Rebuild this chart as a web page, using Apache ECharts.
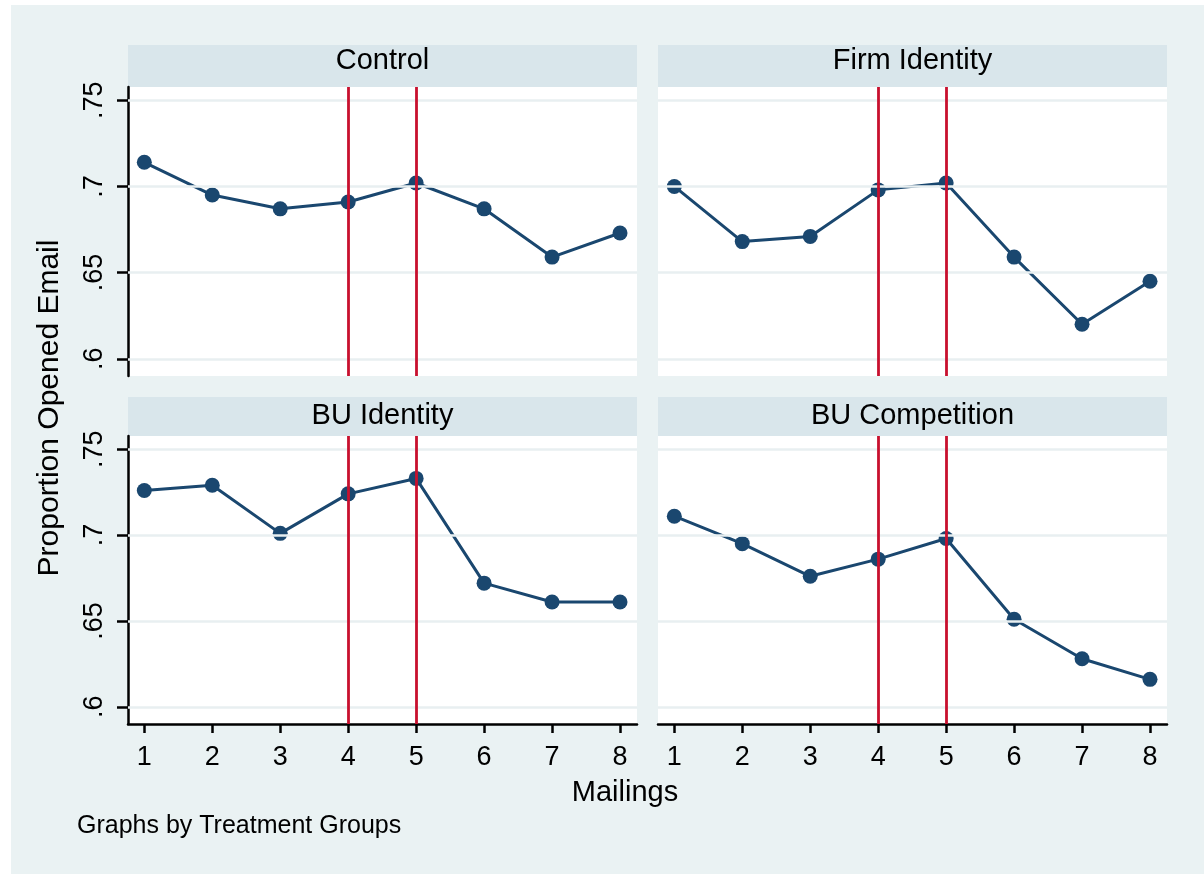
<!DOCTYPE html>
<html>
<head>
<meta charset="utf-8">
<title>Proportion Opened Email by Mailing</title>
<script src="https://cdn.jsdelivr.net/npm/echarts@6/dist/echarts.min.js"></script>
<style>
  html, body { margin: 0; padding: 0; background: #ffffff; }
  #chart { width: 1204px; height: 874px; }
</style>
</head>
<body>
<div id="chart"></div>
<script>
// Mailing number on the x axis
const mailings = [1, 2, 3, 4, 5, 6, 7, 8];

// Proportion of recipients who opened the email, per treatment group
const control       = [0.714, 0.695, 0.687, 0.691, 0.702, 0.687, 0.659, 0.673];
const firmIdentity  = [0.700, 0.668, 0.671, 0.698, 0.702, 0.659, 0.620, 0.645];
const buIdentity    = [0.726, 0.729, 0.701, 0.724, 0.733, 0.672, 0.661, 0.661];
const buCompetition = [0.711, 0.695, 0.676, 0.686, 0.698, 0.651, 0.628, 0.616];

const groupNames = ['Control', 'Firm Identity', 'BU Identity', 'BU Competition'];
const groupValues = [control, firmIdentity, buIdentity, buCompetition];

// Mailings marked with vertical reference lines
const markedMailings = [4, 5];

// Axis ticks
const yTicks = [0.6, 0.65, 0.7, 0.75];
const xTicks = [1, 2, 3, 4, 5, 6, 7, 8];

const FONT = 'Liberation Sans';
const NAVY = '#1a476f';
const RED = '#c8102e';
const BG = '#eaf2f3';
const STRIP = '#d9e6eb';
const GRIDLINE = '#e8eff1';

// Panel layout: [left, top, width, height], row-major
const panels = [
  [128, 87, 509, 289],
  [658, 87, 509, 289],
  [128, 436, 509, 288],
  [658, 436, 509, 288]
];
const stripHeight = [42, 42, 39, 39];

const fmtY = v => {
  const s = String(+v.toFixed(2));
  return s.replace(/^0\./, '.');
};

const grids = [], xAxes = [], yAxes = [], series = [], graphics = [];

// Page background
graphics.push({
  type: 'rect', shape: { x: 11, y: 5, width: 1193, height: 869 },
  style: { fill: BG }, z: -10, silent: true
});

panels.forEach((p, i) => {
  const [left, top, width, height] = p;
  const isLeft = i % 2 === 0;
  const isBottom = i >= 2;

  grids.push({
    left: left, top: top, width: width, height: height,
    show: true, backgroundColor: '#ffffff', borderWidth: 0
  });

  xAxes.push({
    type: 'value', gridIndex: i, min: 0.76, max: 8.25,
    axisLine: { show: isBottom, onZero: false, lineStyle: { color: '#000', width: 2.5 } },
    axisTick: { show: isBottom, customValues: xTicks, length: 9, lineStyle: { color: '#000', width: 2.5 } },
    axisLabel: {
      show: isBottom, customValues: xTicks, margin: 20,
      fontFamily: FONT, fontSize: 27, color: '#000'
    },
    splitLine: { show: false }
  });

  yAxes.push({
    type: 'value', gridIndex: i, min: 0.59, max: 0.7577,
    axisLine: { show: isLeft, onZero: false, lineStyle: { color: '#000', width: 2.5 } },
    axisTick: { show: isLeft, customValues: yTicks, length: 11, lineStyle: { color: '#000', width: 2.5 } },
    axisLabel: {
      show: isLeft, customValues: yTicks, rotate: 90, margin: 20,
      fontFamily: FONT, fontSize: 27, color: '#000',
      formatter: fmtY
    },
    splitLine: { show: false }
  });

  // Horizontal grid lines and vertical reference lines
  series.push({
    type: 'line', xAxisIndex: i, yAxisIndex: i, z: 1, silent: true,
    data: [], showSymbol: false,
    markLine: {
      silent: true, symbol: 'none', animation: false,
      label: { show: false },
      data: yTicks.map(v => ({
        yAxis: v, lineStyle: { color: GRIDLINE, width: 2.5, type: 'solid' }
      })).concat(markedMailings.map(m => ({
        xAxis: m, lineStyle: { color: RED, width: 2.8, type: 'solid' }
      })))
    }
  });

  // Group series
  series.push({
    name: groupNames[i], type: 'line', xAxisIndex: i, yAxisIndex: i, z: 3,
    data: mailings.map((m, k) => [m, groupValues[i][k]]),
    symbol: 'circle', symbolSize: 15,
    itemStyle: { color: NAVY },
    lineStyle: { color: NAVY, width: 3 },
    animation: false
  });

  // Panel strip with the group name
  graphics.push({
    type: 'rect',
    shape: { x: left, y: top - stripHeight[i], width: width, height: stripHeight[i] },
    style: { fill: STRIP }, silent: true
  });
  graphics.push({
    type: 'text', x: left + width / 2, y: top - stripHeight[i] / 2 - (i < 2 ? 5 : 1),
    style: {
      text: groupNames[i], font: '29px "' + FONT + '"', fill: '#000',
      textAlign: 'center', textVerticalAlign: 'middle'
    }, silent: true
  });
});

// Axis titles and note
graphics.push({
  type: 'text', x: 50, y: 408, rotation: Math.PI / 2,
  style: {
    text: 'Proportion Opened Email', font: '30px "' + FONT + '"', fill: '#000',
    textAlign: 'center', textVerticalAlign: 'middle'
  }, silent: true
});
graphics.push({
  type: 'text', x: 625, y: 793,
  style: {
    text: 'Mailings', font: '29px "' + FONT + '"', fill: '#000',
    textAlign: 'center', textVerticalAlign: 'middle'
  }, silent: true
});
graphics.push({
  type: 'text', x: 77, y: 826,
  style: {
    text: 'Graphs by Treatment Groups', font: '25px "' + FONT + '"', fill: '#000',
    textAlign: 'left', textVerticalAlign: 'middle'
  }, silent: true
});

const chart = echarts.init(document.getElementById('chart'), null, { renderer: 'canvas' });
chart.setOption({
  backgroundColor: '#ffffff',
  animation: false,
  grid: grids,
  xAxis: xAxes,
  yAxis: yAxes,
  series: series,
  graphic: { elements: graphics }
});
</script>
</body>
</html>
